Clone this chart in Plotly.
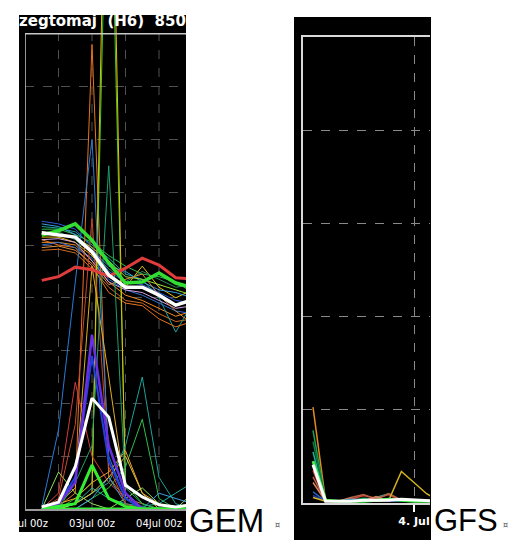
import plotly.graph_objects as go

W, H = 521, 556

# ---------------- GEM panel data (grid units) ----------------
gem_hours = [6, 12, 18, 24, 30, 36, 42, 48, 54, 60]
gem_tick_vals = [0, 12, 24, 36, 48]
gem_tick_text = ["02Jul 00z", "", "03Jul 00z", "", "04Jul 00z"]

# 850 hPa cluster
gem_t_mean = [5.23, 5.19, 5.15, 4.87, 4.43, 4.20, 4.20, 4.05, 3.86, 3.96]
gem_t_red = [4.33, 4.40, 4.58, 4.53, 4.41, 4.56, 4.75, 4.62, 4.38, 4.36]
gem_t_green = [5.19, 5.27, 5.40, 5.09, 4.66, 4.28, 4.30, 4.47, 4.28, 4.19]
gem_t_members = [
    [5.45, 5.40, 5.30, 4.95, 4.50, 4.30, 4.25, 4.10, 3.95, 3.90],
    [5.05, 5.05, 5.00, 4.70, 4.30, 4.05, 3.95, 3.80, 3.65, 3.75],
    [4.90, 4.92, 4.85, 4.55, 4.20, 3.95, 3.90, 3.70, 3.55, 3.60],
    [5.35, 5.32, 5.25, 5.00, 4.75, 4.45, 4.35, 4.00, 3.35, 3.90],
    [5.30, 5.30, 5.20, 5.05, 4.80, 4.60, 4.45, 4.40, 4.30, 4.10],
    [5.15, 5.15, 5.05, 4.80, 4.40, 4.20, 4.60, 4.20, 4.00, 4.15],
    [5.40, 5.35, 5.20, 4.90, 4.60, 4.50, 4.30, 4.15, 4.10, 4.00],
    [5.25, 5.20, 5.15, 4.95, 4.70, 4.40, 4.35, 4.25, 4.15, 4.05],
    [5.10, 5.00, 4.95, 4.60, 4.10, 3.90, 3.85, 3.60, 3.45, 3.55],
    [5.20, 5.25, 5.10, 4.85, 4.55, 4.30, 4.50, 4.35, 4.20, 4.25],
    [5.00, 5.05, 4.95, 4.75, 4.35, 4.15, 4.05, 3.90, 3.75, 3.70],
    [5.10, 5.12, 5.05, 4.70, 4.30, 4.15, 4.10, 3.95, 3.80, 3.85],
    [4.95, 4.98, 4.90, 4.65, 4.25, 4.35, 4.45, 4.05, 3.75, 3.50],
]
gem_t_colors = ["#2a5bd7", "#f08a24", "#d2691e", "#1aa39a", "#2fbf4a", "#e6c000",
                "#3ca0e0", "#9be03a", "#e8731c", "#2e8b57", "#2f6fd0", "#d0a0e0", "#e09040"]

# precipitation
gem_p_mean = [0.04, 0.13, 0.80, 2.10, 1.74, 0.45, 0.23, 0.08, 0.04, 0.08]
gem_p_members = [
    [0.00, 0.05, 0.30, 8.80, 0.60, 0.20, 0.10, 0.00, 0.00, 0.00],
    [0.00, 0.00, 0.20, 0.50, 14.0, 0.50, 0.10, 0.00, 0.00, 0.00],
    [0.00, 0.00, 0.10, 0.30, 16.0, 0.20, 0.00, 0.00, 0.00, 0.00],
    [0.04, 1.50, 4.30, 7.00, 1.00, 0.20, 0.00, 0.00, 0.00, 0.00],
    [0.00, 0.30, 2.40, 1.00, 0.50, 0.20, 0.00, 0.00, 0.00, 0.00],
    [0.00, 0.00, 0.10, 0.30, 0.50, 1.20, 2.50, 0.60, 0.10, 0.00],
    [0.00, 0.00, 0.00, 0.20, 0.40, 0.80, 1.70, 0.20, 0.00, 0.00],
    [0.00, 0.10, 0.20, 0.50, 0.70, 1.10, 0.30, 0.10, 0.00, 0.00],
    [0.00, 0.70, 0.30, 0.10, 0.00, 0.20, 0.40, 0.10, 0.00, 0.30],
    [0.00, 0.00, 0.00, 0.20, 0.60, 0.10, 0.00, 0.30, 0.20, 0.10],
    [0.00, 0.00, 0.10, 0.40, 0.20, 0.10, 0.05, 0.10, 0.30, 0.50],
    [0.00, 0.00, 0.10, 0.30, 0.60, 1.00, 0.30, 0.00, 0.00, 0.10],
    [0.00, 0.20, 1.60, 5.50, 0.80, 0.10, 0.00, 0.00, 0.00, 0.00],
    [0.00, 0.10, 0.40, 4.60, 2.50, 0.30, 0.00, 0.00, 0.00, 0.00],
    [0.00, 0.00, 0.50, 1.20, 6.50, 0.40, 0.10, 0.00, 0.00, 0.00],
]
gem_p_colors = ["#e8731c", "#33cc33", "#e6c000", "#2a7ad6", "#d63b3b", "#1aa39a",
                "#2fbf4a", "#f0a030", "#8ee05a", "#3ca0e0", "#20b0a0", "#e0c040",
                "#c84a2a", "#e0b020", "#1f9e6a"]
gem_p_purple = [0.00, 0.10, 0.50, 3.30, 1.20, 0.30, 0.00, 0.00, 0.00, 0.00]
gem_p_blue = [0.00, 0.10, 0.60, 2.90, 0.90, 0.20, 0.00, 0.00, 0.00, 0.00]
gem_p_lime = [0.00, 0.05, 0.10, 0.83, 0.20, 0.05, 0.00, 0.00, 0.00, 0.00]
gem_p_zero = [0.00, 0.00, 0.00, 0.00, 0.00, 0.00, 0.00, 0.00, 0.00, 0.00]

# ---------------- GFS panel data (grid units) ----------------
gfs_hours = [0, 6, 12, 18, 24, 30, 36, 42, 48, 54, 60]
gfs_tick_vals = [48]
gfs_tick_text = ["4. Jul"]
gfs_members = [
    [1.03, 0.02, 0.02, 0.02, 0.03, 0.02, 0.02, 0.02, 0.02, 0.02, 0.02],
    [0.78, 0.02, 0.02, 0.03, 0.05, 0.04, 0.03, 0.02, 0.02, 0.02, 0.02],
    [0.66, 0.03, 0.02, 0.02, 0.02, 0.02, 0.02, 0.02, 0.02, 0.02, 0.02],
    [0.55, 0.02, 0.02, 0.02, 0.03, 0.06, 0.10, 0.03, 0.02, 0.02, 0.02],
    [0.35, 0.02, 0.02, 0.04, 0.08, 0.05, 0.09, 0.02, 0.02, 0.02, 0.02],
    [0.28, 0.02, 0.02, 0.06, 0.09, 0.04, 0.10, 0.03, 0.02, 0.02, 0.02],
    [0.22, 0.02, 0.02, 0.05, 0.02, 0.07, 0.02, 0.02, 0.02, 0.02, 0.02],
    [0.12, 0.02, 0.02, 0.04, 0.03, 0.02, 0.02, 0.02, 0.02, 0.02, 0.02],
    [0.08, 0.02, 0.02, 0.02, 0.02, 0.02, 0.02, 0.02, 0.02, 0.02, 0.02],
    [0.06, 0.02, 0.02, 0.02, 0.02, 0.02, 0.03, 0.34, 0.22, 0.10, 0.02],
]
gfs_colors = ["#e08a20", "#18a050", "#0b7a3b", "#20b0a0", "#d04040", "#b06040",
              "#e08060", "#2060c0", "#1a3a9a", "#d4b21c"]
gfs_lime = [0.45, 0.03, 0.02, 0.02, 0.02, 0.03, 0.04, 0.03, 0.02, 0.02, 0.02]
gfs_mean = [0.41, 0.02, 0.02, 0.02, 0.03, 0.03, 0.03, 0.04, 0.03, 0.02, 0.02]

# ---------------- figure ----------------
fig = go.Figure()


def add(x, y, color, width, xa="x", ya="y"):
    fig.add_trace(go.Scatter(x=x, y=y, mode="lines", xaxis=xa, yaxis=ya,
                             line=dict(color=color, width=width),
                             showlegend=False, hoverinfo="skip"))


for vals, c in zip(gem_t_members, gem_t_colors):
    add(gem_hours, vals, c, 1)
for vals, c in zip(gem_p_members, gem_p_colors):
    add(gem_hours, vals, c, 1)
add(gem_hours, gem_p_blue, "#2040e0", 2)
add(gem_hours, gem_p_purple, "#6a2fe0", 2.5)
add(gem_hours, gem_p_lime, "#33ee33", 3)
add(gem_hours, gem_p_zero, "#33ee33", 3)
add(gem_hours, gem_t_red, "#e03c3c", 3)
add(gem_hours, gem_t_green, "#33dd33", 3.5)
add(gem_hours, gem_t_mean, "#ffffff", 3.5)
add(gem_hours, gem_p_mean, "#ffffff", 3)

for vals, c in zip(gfs_members, gfs_colors):
    add(gfs_hours, vals, c, 1.5, "x2", "y2")
add(gfs_hours, gfs_lime, "#44ee44", 3, "x2", "y2")
add(gfs_hours, gfs_mean, "#ffffff", 3, "x2", "y2")


def px(p):
    return p / W


def py(p):
    return 1 - p / H


gem_xmax = (186 - 25) / 2.7917
gem_ytop = 9
gfs_xmin, gfs_xmax = -4.75, 55.6

shapes = [
    dict(type="rect", xref="paper", yref="paper", x0=px(19), x1=px(186), y0=py(532), y1=py(15),
         fillcolor="black", line=dict(width=0), layer="below"),
    dict(type="rect", xref="paper", yref="paper", x0=px(294), x1=px(431), y0=py(540), y1=py(17),
         fillcolor="black", line=dict(width=0), layer="below"),
]
for v in gem_tick_vals[1:]:
    shapes.append(dict(type="line", xref="x", yref="y", x0=v, x1=v, y0=0, y1=gem_ytop,
                       line=dict(color="#505050", width=1, dash="dash"), layer="below"))
shapes.append(dict(type="line", xref="x", yref="y", x0=0, x1=0, y0=0, y1=gem_ytop,
                   line=dict(color="#c8c8c8", width=1.5), layer="above"))
shapes.append(dict(type="line", xref="x", yref="y", x0=0, x1=gem_xmax, y0=gem_ytop, y1=gem_ytop,
                   line=dict(color="#c8c8c8", width=1.5), layer="above"))

fig.update_layout(
    template="none",
    width=W, height=H, autosize=False,
    margin=dict(l=0, r=0, t=0, b=0, pad=0, autoexpand=False),
    paper_bgcolor="white", plot_bgcolor="black",
    shapes=shapes,
    xaxis=dict(domain=[px(25), px(186)], range=[0, gem_xmax], anchor="y", automargin=False,
               tickvals=gem_tick_vals, ticktext=gem_tick_text, ticks="",
               tickfont=dict(family="DejaVu Sans", size=10, color="#ffffff"),
               showgrid=False, zeroline=False, showline=True,
               linecolor="#9a9a9a", linewidth=2, ticklabelstandoff=4),
    yaxis=dict(domain=[py(509), py(15)], range=[0, (509 - 15) / 52.8], anchor="x",
               automargin=False,
               tickvals=[1, 2, 3, 4, 5, 6, 7, 8], showgrid=True, gridcolor="#505050",
               griddash="dash", gridwidth=1, showticklabels=False, zeroline=False,
               showline=False, ticks=""),
    xaxis2=dict(domain=[px(303), px(430)], range=[gfs_xmin, gfs_xmax], anchor="y2",
                automargin=False,
                tickvals=gfs_tick_vals, ticktext=gfs_tick_text, ticks="outside",
                ticklen=7, tickwidth=1.5, tickcolor="#ffffff",
                tickfont=dict(family="DejaVu Sans", size=11, color="#ffffff", weight="bold"),
                showgrid=True, gridcolor="#8a8a8a", griddash="dash", gridwidth=1,
                zeroline=False, showline=True, mirror=True, linecolor="#d8d8d8", linewidth=2),
    yaxis2=dict(domain=[py(503), py(37)], range=[0, 5.01], anchor="x2", automargin=False,
                dtick=1, tick0=0, showgrid=True, gridcolor="#8a8a8a", griddash="dash",
                gridwidth=1, showticklabels=False, zeroline=False,
                showline=True, linecolor="#d8d8d8", linewidth=2),
)

annotations = [
    dict(text="zegtomaj  (H6)  850 h", xref="paper", yref="paper", x=px(17), y=py(21),
         xanchor="left", yanchor="middle", showarrow=False,
         font=dict(family="DejaVu Sans", size=15, color="white", weight="bold")),
    dict(text="GEM", xref="paper", yref="paper", x=px(187), y=py(520),
         xanchor="left", yanchor="middle", showarrow=False,
         font=dict(family="Liberation Sans", size=33, color="black")),
    dict(text="¤", xref="paper", yref="paper", x=px(273), y=py(525),
         xanchor="left", yanchor="middle", showarrow=False,
         font=dict(family="DejaVu Sans", size=8, color="#555555")),
    dict(text="GFS", xref="paper", yref="paper", x=px(432), y=py(520),
         xanchor="left", yanchor="middle", showarrow=False,
         font=dict(family="Liberation Sans", size=31, color="black")),
    dict(text="¤", xref="paper", yref="paper", x=px(501), y=py(525),
         xanchor="left", yanchor="middle", showarrow=False,
         font=dict(family="DejaVu Sans", size=8, color="#555555")),
]
fig.update_layout(annotations=annotations)

fig.write_html("out.html", config={"displayModeBar": False},
               post_script="document.body.style.margin='0';")
